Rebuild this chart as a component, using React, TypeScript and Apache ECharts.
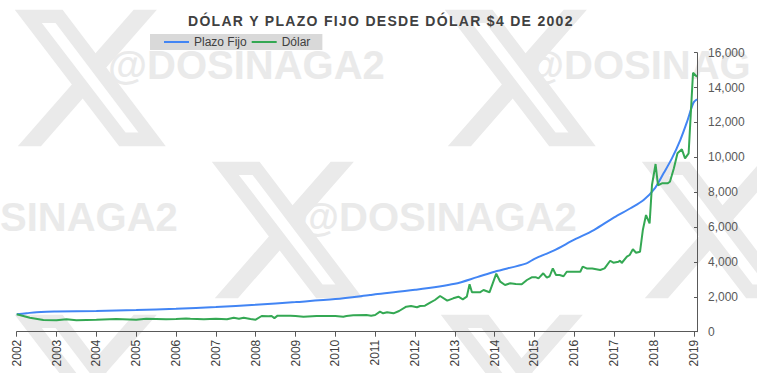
import React, { useEffect, useRef } from "react";
import * as echarts from "echarts";

// ---------- data ----------
const yearTicks = [2002, 2003, 2004, 2005, 2006, 2007, 2008, 2009, 2010, 2011, 2012, 2013, 2014, 2015, 2016, 2017, 2018, 2019];
const valueTicks = [0, 2000, 4000, 6000, 8000, 10000, 12000, 14000, 16000];

const plazoFijoX = [2002.0, 2002.25, 2002.5, 2002.75, 2003.0, 2004.0, 2005.0, 2006.0, 2007.0, 2008.0, 2009.0, 2010.0, 2010.87, 2011.0, 2012.0, 2013.0, 2013.56, 2014.0, 2014.8, 2015.0, 2015.48, 2016.0, 2016.49, 2017.0, 2017.41, 2017.74, 2018.03, 2018.24, 2018.45, 2018.66, 2018.83, 2018.99, 2019.08];
const plazoFijoY = [1000, 1060, 1120, 1150, 1160, 1190, 1245, 1320, 1415, 1545, 1700, 1870, 2105, 2145, 2400, 2750, 3130, 3440, 3920, 4180, 4650, 5280, 5830, 6560, 7080, 7550, 8250, 9080, 9940, 10990, 12040, 13130, 13330];

const dolarX = [2002.0, 2002.33, 2002.67, 2003.0, 2003.25, 2003.5, 2004.0, 2004.5, 2005.0, 2005.25, 2005.75, 2006.0, 2006.25, 2006.36, 2006.7, 2007.0, 2007.28, 2007.45, 2007.58, 2007.7, 2007.87, 2008.0, 2008.15, 2008.32, 2008.4, 2008.47, 2008.55, 2008.87, 2009.0, 2009.2, 2009.53, 2010.0, 2010.2, 2010.28, 2010.45, 2010.78, 2010.9, 2011.0, 2011.12, 2011.2, 2011.3, 2011.46, 2011.6, 2011.78, 2011.9, 2012.05, 2012.13, 2012.25, 2012.38, 2012.5, 2012.63, 2012.81, 2012.96, 2013.09, 2013.2, 2013.3, 2013.37, 2013.43, 2013.55, 2013.63, 2013.72, 2013.87, 2014.04, 2014.14, 2014.26, 2014.39, 2014.53, 2014.68, 2014.81, 2014.93, 2015.04, 2015.1, 2015.22, 2015.31, 2015.38, 2015.46, 2015.54, 2015.63, 2015.73, 2015.81, 2015.97, 2016.15, 2016.21, 2016.31, 2016.45, 2016.65, 2016.76, 2016.9, 2016.98, 2017.11, 2017.15, 2017.19, 2017.32, 2017.39, 2017.47, 2017.55, 2017.65, 2017.72, 2017.8, 2017.89, 2017.95, 2018.04, 2018.1, 2018.2, 2018.34, 2018.4, 2018.5, 2018.59, 2018.7, 2018.78, 2018.87, 2018.98, 2019.08];
const dolarY = [1000, 800, 670, 655, 710, 655, 690, 730, 690, 740, 710, 730, 760, 745, 710, 745, 710, 800, 745, 800, 730, 690, 900, 890, 900, 780, 920, 920, 900, 860, 900, 900, 860, 900, 940, 960, 920, 960, 1150, 1055, 1110, 1055, 1187, 1435, 1475, 1400, 1475, 1490, 1663, 1818, 2047, 1778, 1915, 2007, 1858, 2007, 2718, 2260, 2260, 2260, 2391, 2260, 3326, 2868, 2678, 2776, 2740, 2718, 2965, 3120, 3120, 3060, 3350, 3100, 3180, 3635, 3250, 3250, 3180, 3440, 3440, 3440, 3730, 3630, 3630, 3540, 3630, 4070, 3957, 4015, 4070, 3940, 4300, 4400, 4725, 4530, 4590, 5830, 6690, 6215, 8415, 9615, 8400, 8510, 8510, 8600, 9370, 10230, 10460, 9944, 10230, 14853, 14624];

// ---------- watermark decoration (not data) ----------
const X_PATH = "M18.244 2.25h3.308l-7.227 8.26 8.502 11.24H16.17l-5.214-6.817L4.99 21.75H1.68l7.73-8.835L1.254 2.25H8.08l4.713 6.231zm-1.161 17.52h1.833L7.084 4.126H5.117z";
const wmLogos = [[6, -6], [436, -6], [203, 146], [633, 146], [6, 299], [432, 299]];
const wmTextItems: [number, number, string][] = [
  [108, 65, "@DOSINAGA2"],
  [525, 65, "@DOSINAG"],
  [0, 217, "SINAGA2"],
  [300, 217, "@DOSINAGA2"],
];
const WM_COLOR = "#eaeaea";

let shapeRegistered = false;
function ensureShape() {
  if (shapeRegistered) return;
  echarts.graphic.registerShape("xlogo", echarts.graphic.extendPath(X_PATH, {}));
  shapeRegistered = true;
}

const FONT = "'Liberation Sans', Arial, sans-serif";
const TITLE = "DÓLAR Y PLAZO FIJO DESDE DÓLAR $4 DE 2002";

export default function App() {
  const ref = useRef<HTMLDivElement>(null);

  useEffect(() => {
    if (!ref.current) return;
    ensureShape();
    const chart = echarts.init(ref.current, null, { renderer: "svg" });

    const pfData = plazoFijoX.map((x, i) => [x, plazoFijoY[i]]);
    const dData = dolarX.map((x, i) => [x, dolarY[i]]);

    const graphics: any[] = [];
    wmLogos.forEach(([x, y]) => {
      graphics.push({
        type: "xlogo",
        x,
        y,
        scaleX: 7,
        scaleY: 7,
        silent: true,
        z: -10,
        style: { fill: WM_COLOR },
      });
    });
    wmTextItems.forEach(([x, y, t]) => {
      graphics.push({
        type: "text",
        x,
        y,
        silent: true,
        z: -10,
        style: {
          text: t,
          fill: WM_COLOR,
          font: `bold 40px ${FONT}`,
          verticalAlign: "middle",
        },
      });
    });

    chart.setOption({
      animation: false,
      backgroundColor: "#ffffff",
      graphic: graphics,
      title: {
        text: TITLE,
        left: 188,
        top: 14,
        padding: 0,
        textStyle: {
          fontFamily: FONT,
          fontWeight: "bold",
          fontSize: 14,
          color: "#404040",
        },
      },
      legend: {
        left: 150,
        top: 34,
        padding: [2, 12, 2, 14],
        backgroundColor: "#d9d9d9",
        icon: "rect",
        itemWidth: 25,
        itemHeight: 2,
        itemGap: 5,
        textStyle: { fontFamily: FONT, fontSize: 12, color: "#404040" },
        data: ["Plazo Fijo", "Dólar"],
      },
      grid: { left: 16.7, right: 60, top: 52.7, bottom: 41.3, containLabel: false },
      xAxis: {
        type: "value",
        min: 2002,
        max: 2019.08,
        splitLine: { show: false },
        axisLine: { show: true, lineStyle: { color: "#595959", width: 1 } },
        axisTick: { show: true, length: 5, customValues: yearTicks, lineStyle: { color: "#595959" } },
        axisLabel: {
          customValues: yearTicks,
          rotate: 90,
          margin: 8,
          fontFamily: FONT,
          fontSize: 12,
          color: "#404040",
          formatter: (v: number) => String(Math.round(v)),
        },
      },
      yAxis: {
        type: "value",
        position: "right",
        min: valueTicks[0],
        max: valueTicks[valueTicks.length - 1],
        interval: 2000,
        splitLine: { show: false },
        axisLine: { show: true, lineStyle: { color: "#595959", width: 1 } },
        axisTick: { show: true, inside: true, length: 3, lineStyle: { color: "#595959" } },
        axisLabel: {
          margin: 11,
          fontFamily: FONT,
          fontSize: 12,
          color: "#595959",
          formatter: (v: number) => v.toLocaleString("en-US"),
        },
      },
      series: [
        {
          name: "Plazo Fijo",
          type: "line",
          data: pfData,
          smooth: 0.3,
          symbol: "none",
          lineStyle: { color: "#4285F4", width: 2 },
          itemStyle: { color: "#4285F4" },
          z: 3,
        },
        {
          name: "Dólar",
          type: "line",
          data: dData,
          symbol: "none",
          lineStyle: { color: "#34A853", width: 2 },
          itemStyle: { color: "#34A853" },
          z: 4,
        },
      ],
    });

    // approximate the letter-spaced title of the reference
    const texts = ref.current.querySelectorAll("text");
    texts.forEach((t) => {
      if ((t.textContent || "").startsWith("DÓLAR Y")) {
        t.setAttribute("letter-spacing", "1.3");
      }
    });

    return () => chart.dispose();
  }, []);

  return (
    <div
      ref={ref}
      style={{ position: "absolute", left: 0, top: 0, width: 757, height: 373 }}
    />
  );
}
